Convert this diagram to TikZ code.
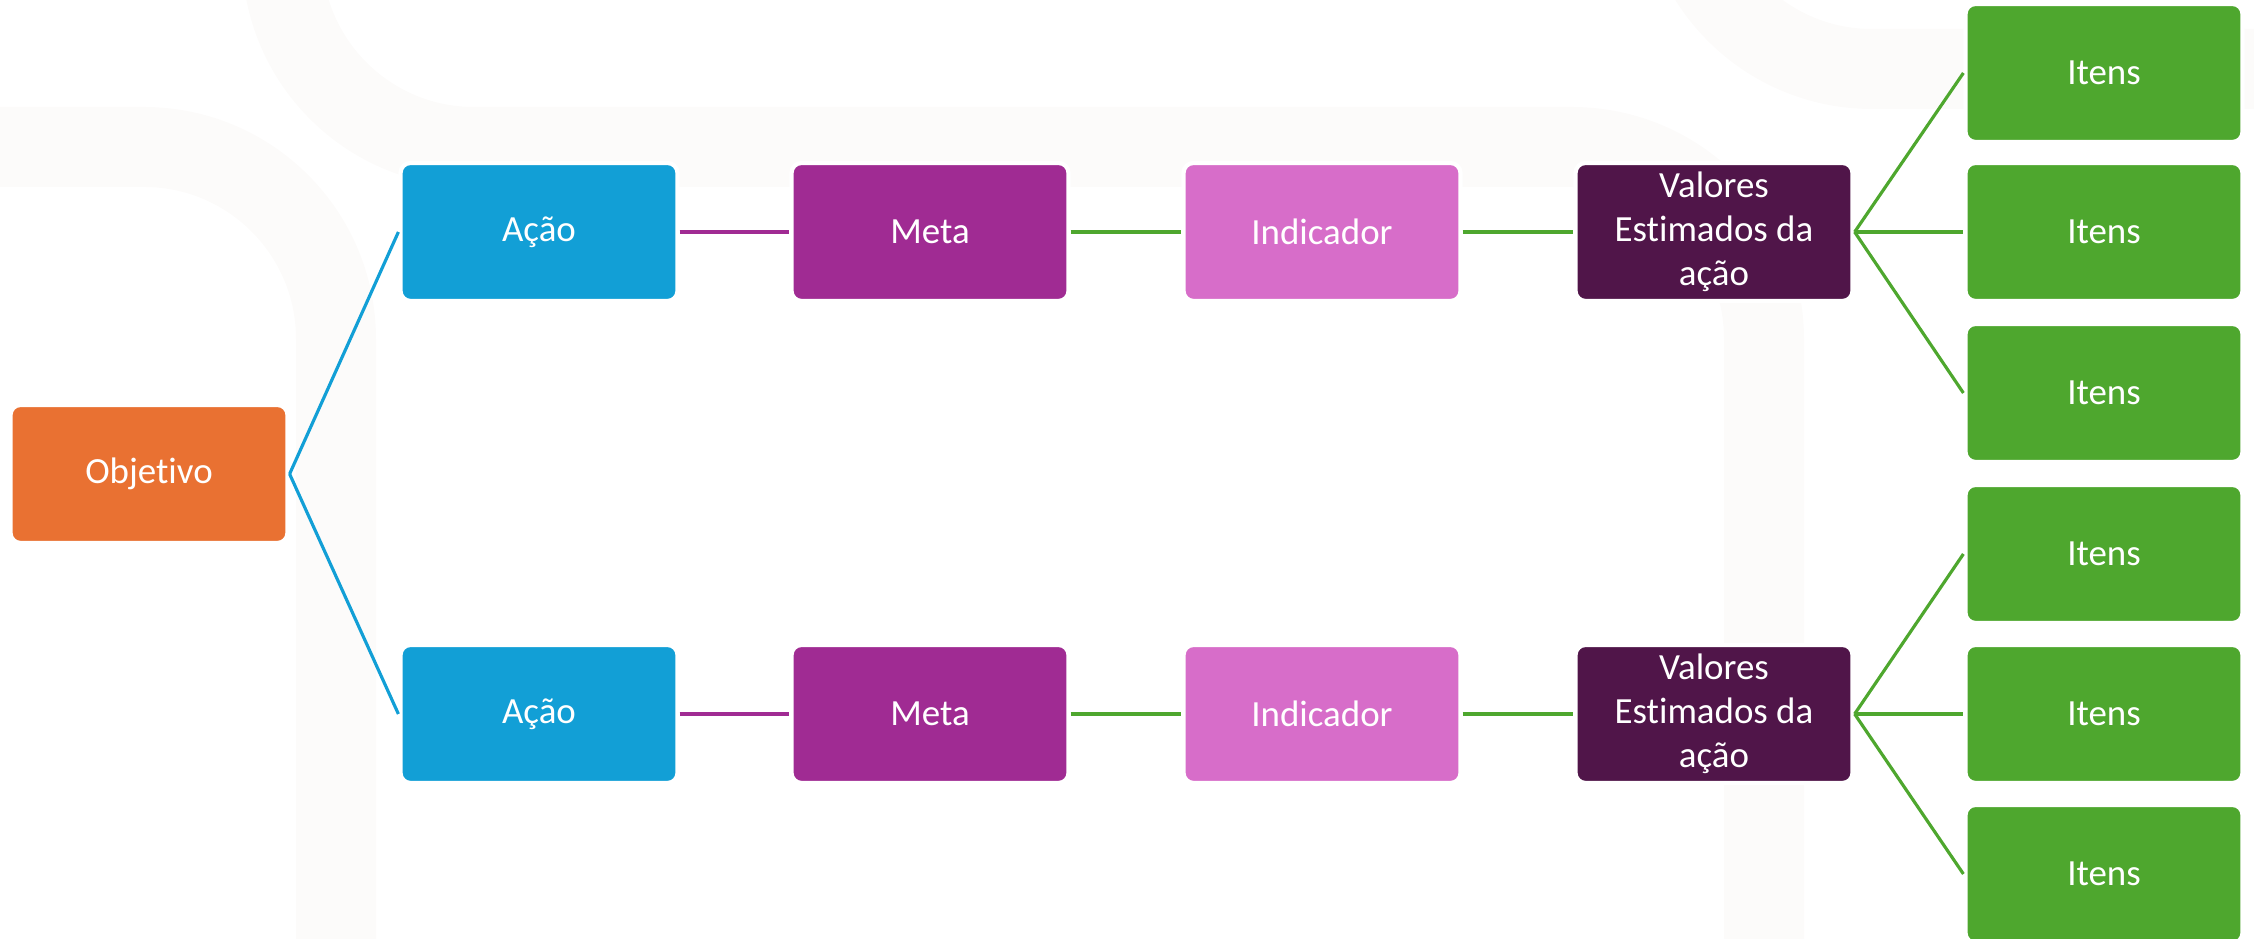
\documentclass[tikz,border=0pt]{standalone}
\usepackage{fontspec}
\setmainfont[Ligatures = NoCommon]{Carlito}

\definecolor{objcolor}{HTML}{E97132}
\definecolor{acaocolor}{HTML}{129FD6}
\definecolor{metacolor}{HTML}{A02B93}
\definecolor{indcolor}{HTML}{D76DC9}
\definecolor{valcolor}{HTML}{501549}
\definecolor{itemcolor}{HTML}{4EA72E}
\definecolor{bandcolor}{HTML}{FCFBFA}

\tikzset{
    box/.style = {rectangle, rounded corners = 1mm, draw = white, line width = 1.2pt,
        minimum width = 2.77cm, minimum height = 1.38cm, inner sep = 0pt,
        text = white, align = center, font = \fontsize{10.5}{12.6}\selectfont},
    objbox/.style = {box, fill = objcolor},
    acaobox/.style = {box, fill = acaocolor},
    metabox/.style = {box, fill = metacolor},
    indbox/.style = {box, fill = indcolor},
    valbox/.style = {box, fill = valcolor},
    itembox/.style = {box, fill = itemcolor},
    link/.style = {line width = 1.1pt},
    fan/.style = {line width = 0.9pt},
    band/.style = {bandcolor, line width = 0.8cm}
}

\begin{document}
\begin{tikzpicture}
            \useasboundingbox (0, 0) rectangle (22.54, 9.39);
            % faint background bands
            \begin{scope}
                \clip (0, 0) rectangle (22.54, 9.39);
                \draw (0, 7.92)--(1.44, 7.92) arc[start angle = 90, end angle = 0, radius = 1.92]--(3.36, -1)[band];
                \draw (2.82, 9.84) arc[start angle = 180, end angle = 270, radius = 1.92]--(15.72, 7.92) arc[start angle = 90, end angle = 0, radius = 1.92]--(17.64, -1)[band];
                \draw (16.80, 10.62) arc[start angle = 180, end angle = 270, radius = 1.92]--(23, 8.70)[band];
            \end{scope}
            % boxes
            \draw (1.49, 4.65)node(obj)[objbox]{Objetivo};
            \draw (5.39, 7.07)node(acao1)[acaobox]{Ação};
            \draw (9.30, 7.07)node(meta1)[metabox]{Meta};
            \draw (13.22, 7.07)node(ind1)[indbox]{Indicador};
            \draw (17.14, 7.07)node(val1)[valbox]{Valores\\Estimados da\\ação};
            \draw (21.04, 8.66)node(item1)[itembox]{Itens};
            \draw (21.04, 7.07)node(item2)[itembox]{Itens};
            \draw (21.04, 5.46)node(item3)[itembox]{Itens};
            \draw (5.39, 2.25)node(acao2)[acaobox]{Ação};
            \draw (9.30, 2.25)node(meta2)[metabox]{Meta};
            \draw (13.22, 2.25)node(ind2)[indbox]{Indicador};
            \draw (17.14, 2.25)node(val2)[valbox]{Valores\\Estimados da\\ação};
            \draw (21.04, 3.85)node(item4)[itembox]{Itens};
            \draw (21.04, 2.25)node(item5)[itembox]{Itens};
            \draw (21.04, 0.65)node(item6)[itembox]{Itens};
            % connectors
            \draw (obj.east)--(acao1.west)[acaocolor, fan];
            \draw (obj.east)--(acao2.west)[acaocolor, fan];
            \draw (acao1)--(meta1)[metacolor, link];
            \draw (meta1)--(ind1)[itemcolor, link];
            \draw (ind1)--(val1)[itemcolor, link];
            \draw (val1.east)--(item1.west)[itemcolor, fan];
            \draw (val1.east)--(item2.west)[itemcolor, link];
            \draw (val1.east)--(item3.west)[itemcolor, fan];
            \draw (acao2)--(meta2)[metacolor, link];
            \draw (meta2)--(ind2)[itemcolor, link];
            \draw (ind2)--(val2)[itemcolor, link];
            \draw (val2.east)--(item4.west)[itemcolor, fan];
            \draw (val2.east)--(item5.west)[itemcolor, link];
            \draw (val2.east)--(item6.west)[itemcolor, fan];
        \end{tikzpicture}
\end{document}
